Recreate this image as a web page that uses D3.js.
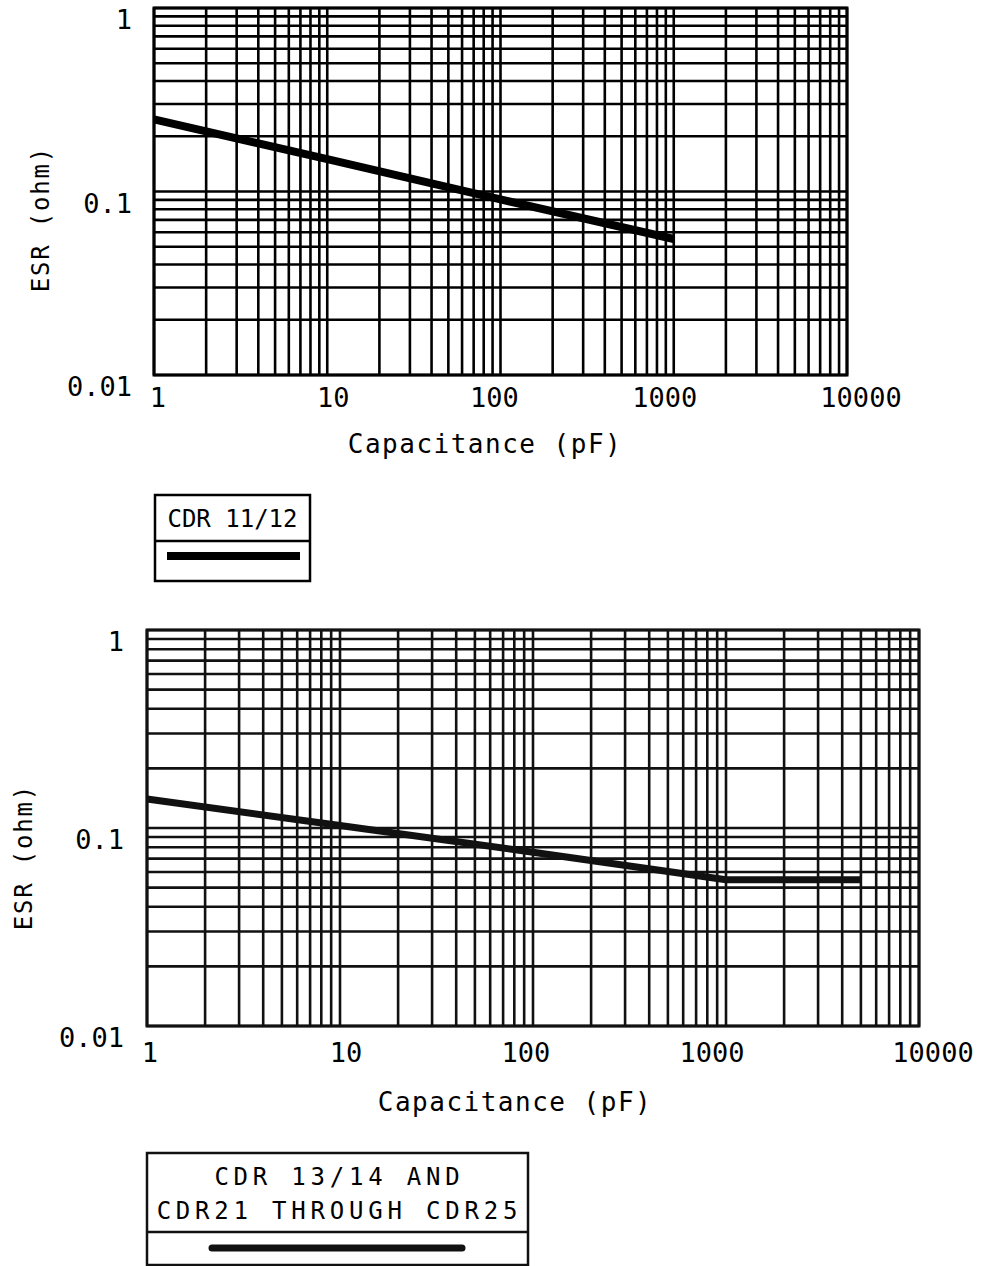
<!DOCTYPE html>
<html>
<head>
<meta charset="utf-8">
<script src="https://cdn.jsdelivr.net/npm/d3@7"></script>
<style>
  html, body { margin: 0; padding: 0; background: #fff; }
  svg { display: block; }
  text { font-family: "DejaVu Sans Mono", monospace; fill: #000; }
</style>
</head>
<body>
<svg id="chart" width="987" height="1266"></svg>
<script>
// ---- data ----
const xTickValues = [1, 10, 100, 1000, 10000];
const xTickLabels = ["1", "10", "100", "1000", "10000"];
const yTickValues = [0.01, 0.1, 1];
const yTickLabels = ["0.01", "0.1", "1"];

const xTitle = "Capacitance (pF)";
const yTitle = "ESR (ohm)";

// chart 1: CDR 11/12
const cap1 = [1, 10, 100, 1000];
const esr1 = [0.247, 0.150, 0.0905, 0.0551];
const legend1 = ["CDR 11/12"];

// chart 2: CDR 13/14 and CDR21 through CDR25
const cap2 = [1, 10, 100, 1000, 5000];
const esr2 = [0.140, 0.103, 0.0755, 0.0548, 0.0548];
const legend2 = ["CDR 13/14 AND", "CDR21 THROUGH CDR25"];

const svg = d3.select("#chart");

function drawChart(cfg) {
  const g = svg.append("g");
  const x = d3.scaleLog().domain([1, 10000]).range([cfg.left, cfg.right]);
  const y = d3.scaleLog().domain([0.01, 1]).range([cfg.bottom, cfg.top]);

  // vertical grid
  g.append("g").selectAll("line").data(x.ticks())
    .join("line")
    .attr("x1", d => x(d)).attr("x2", d => x(d))
    .attr("y1", cfg.top).attr("y2", cfg.bottom)
    .attr("stroke", cfg.color).attr("stroke-width", 2.6);

  // horizontal grid
  g.append("g").selectAll("line").data(y.ticks())
    .join("line")
    .attr("x1", cfg.left).attr("x2", cfg.right)
    .attr("y1", d => y(d)).attr("y2", d => y(d))
    .attr("stroke", cfg.color).attr("stroke-width", 2.6);

  // frame
  g.append("rect")
    .attr("x", cfg.left).attr("y", cfg.top)
    .attr("width", cfg.right - cfg.left).attr("height", cfg.bottom - cfg.top)
    .attr("fill", "none").attr("stroke", cfg.color).attr("stroke-width", 3);

  // curve
  const pts = cfg.caps.map((c, i) => [c, cfg.esr[i]]);
  g.append("path")
    .datum(pts)
    .attr("d", d3.line().x(d => x(d[0])).y(d => y(d[1])))
    .attr("fill", "none").attr("stroke", cfg.color)
    .attr("stroke-width", cfg.curveWidth)
    .attr("stroke-linejoin", "round");

  // x tick labels
  g.append("g").selectAll("text").data(xTickValues)
    .join("text")
    .attr("x", (d, i) => x(d) + cfg.xLabelShift[i])
    .attr("y", cfg.bottom + cfg.xLabelDy)
    .attr("text-anchor", "middle")
    .attr("font-size", 27)
    .text((d, i) => xTickLabels[i]);

  // y tick labels
  g.append("g").selectAll("text").data(yTickValues)
    .join("text")
    .attr("x", cfg.yLabelX)
    .attr("y", d => y(d) + 21)
    .attr("text-anchor", "end")
    .attr("font-size", 27)
    .text((d, i) => yTickLabels[i]);

  // axis titles
  g.append("text")
    .attr("x", cfg.xTitleX).attr("y", cfg.xTitleY)
    .attr("text-anchor", "middle")
    .attr("font-size", 26).attr("letter-spacing", 1.5)
    .text(xTitle);

  g.append("text")
    .attr("transform", `translate(${cfg.yTitleX},${cfg.yTitleY}) rotate(-90)`)
    .attr("text-anchor", "middle")
    .attr("font-size", 24).attr("letter-spacing", 1.8)
    .text(yTitle);

  // legend box
  const L = cfg.legend;
  const lg = g.append("g");
  lg.append("rect")
    .attr("x", L.x).attr("y", L.y).attr("width", L.w).attr("height", L.h)
    .attr("fill", "none").attr("stroke", cfg.color).attr("stroke-width", 2.5);
  lg.append("line")
    .attr("x1", L.x).attr("x2", L.x + L.w)
    .attr("y1", L.div).attr("y2", L.div)
    .attr("stroke", cfg.color).attr("stroke-width", 2.5);
  lg.selectAll("text.leg").data(L.lines)
    .join("text")
    .attr("class", "leg")
    .attr("x", L.x + L.w / 2 + L.dx)
    .attr("y", (d, i) => L.textY + i * L.lineGap)
    .attr("text-anchor", "middle")
    .attr("font-size", L.fontSize)
    .attr("letter-spacing", L.spacing)
    .text(d => d);
  lg.append("line")
    .attr("x1", L.sx1).attr("x2", L.sx2)
    .attr("y1", L.sy).attr("y2", L.sy)
    .attr("stroke", cfg.color).attr("stroke-width", cfg.curveWidth)
    .attr("stroke-linecap", L.cap);
}

drawChart({
  left: 154, right: 847, top: 8, bottom: 375,
  color: "#000", curveWidth: 8,
  caps: cap1, esr: esr1,
  xLabelDy: 32, xLabelShift: [4, 6, -6, -9, 14], yLabelX: 132,
  xTitleX: 485, xTitleY: 453,
  yTitleX: 49, yTitleY: 219,
  legend: {
    x: 155, y: 495, w: 155, h: 86, div: 541, dx: 0,
    lines: legend1, textY: 527, lineGap: 0, fontSize: 24, spacing: 0,
    sx1: 167, sx2: 300, sy: 556, cap: "butt"
  }
});

drawChart({
  left: 147, right: 919, top: 630, bottom: 1026,
  color: "#111", curveWidth: 7,
  caps: cap2, esr: esr2,
  xLabelDy: 36, xLabelShift: [3, 6, -7, -14, 14], yLabelX: 124,
  xTitleX: 515, xTitleY: 1111,
  yTitleX: 32, yTitleY: 857,
  legend: {
    x: 147, y: 1153, w: 381, h: 112, div: 1232, dx: 2,
    lines: legend2, textY: 1185, lineGap: 34, fontSize: 24, spacing: 4.8,
    sx1: 212, sx2: 462, sy: 1248, cap: "round"
  }
});
</script>
</body>
</html>
